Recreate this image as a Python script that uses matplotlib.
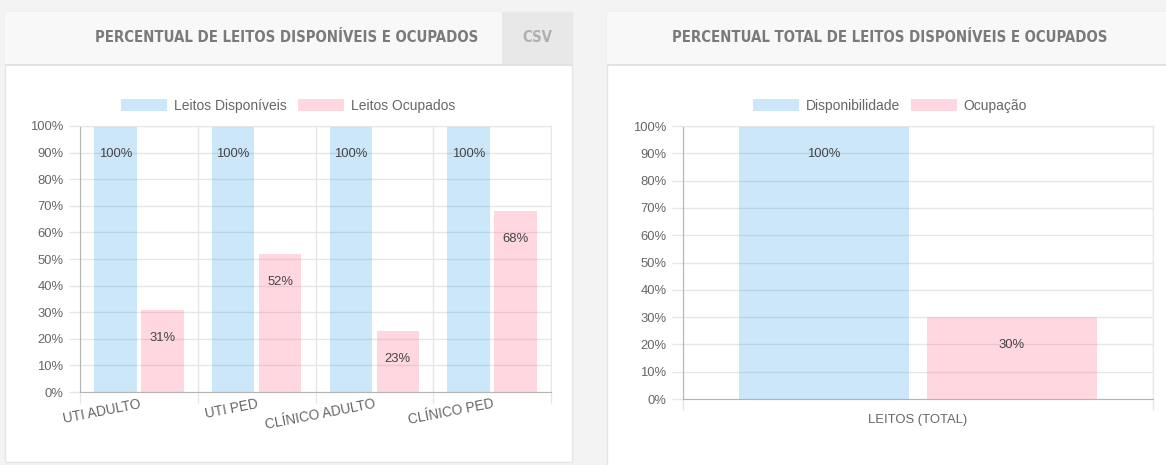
import matplotlib.pyplot as plt
from matplotlib.patches import Rectangle

# data
categorias = ["UTI ADULTO", "UTI PED", "CLÍNICO ADULTO", "CLÍNICO PED"]
disponiveis = [100, 100, 100, 100]
ocupados = [31, 52, 23, 68]

total_cat = ["LEITOS (TOTAL)"]
total_disp = [100]
total_ocup = [30]

yticks = list(range(0, 101, 10))

W, H = 1166, 465
BLUE = (54/255, 162/255, 235/255, 0.25)
PINK = (255/255, 99/255, 132/255, 0.25)
GRID = "#e6e6e6"
AXIS = "#b5b5b5"
TXT = "#666666"
FS = 9.4

plt.rcParams["font.family"] = ["Liberation Sans", "DejaVu Sans"]

fig = plt.figure(figsize=(W / 100, H / 100), dpi=100)
fig.patch.set_facecolor("#f3f3f3")

# background: cards, headers
bg = fig.add_axes([0, 0, 1, 1], zorder=-10)
bg.set_xlim(0, W)
bg.set_ylim(H, 0)
bg.axis("off")


def card(x0, x1, y0, y1, title, tx, csv=False):
    bg.add_patch(Rectangle((x0, y0), x1 - x0, y1 - y0, facecolor="white",
                           edgecolor="#e6e6e6", lw=1))
    bg.add_patch(Rectangle((x0, y0), x1 - x0, 52, facecolor="#f9f8f8", lw=0))
    bg.add_patch(Rectangle((x0, 64), x1 - x0, 2, facecolor="#e2e2e2", lw=0))
    bg.text(tx, 38, title, ha="center", va="center", fontsize=10.7,
            fontweight="bold", fontstretch="condensed", color="#7a7a7a",
            family="DejaVu Sans")
    if csv:
        bg.add_patch(Rectangle((502, y0), x1 - 502, 52, facecolor="#e8e8e8", lw=0))
        bg.text(537, 38, "CSV", ha="center", va="center", fontsize=10.7,
                fontweight="bold", fontstretch="condensed", color="#b0b0b0",
                family="DejaVu Sans")


card(5, 572, 12, 462, "PERCENTUAL DE LEITOS DISPONÍVEIS E OCUPADOS", 287, csv=True)
card(607, 1175, 12, 470, "PERCENTUAL TOTAL DE LEITOS DISPONÍVEIS E OCUPADOS", 890)


def style(ax, n):
    ax.set_xlim(-0.5, n - 0.5)
    ax.set_ylim(0, 100)
    ax.set_yticks(yticks)
    ax.set_yticklabels([f"{v}%" for v in yticks])
    ax.set_xticks(range(n))
    ax.set_xticks([i - 0.5 for i in range(n + 1)], minor=True)
    ax.tick_params(axis="y", length=8, width=1, color=GRID, pad=4,
                   labelsize=FS, labelcolor=TXT)
    ax.tick_params(axis="x", which="major", length=0, labelsize=9.8, labelcolor=TXT)
    ax.tick_params(axis="x", which="minor", length=8, width=1, color=GRID)
    ax.grid(axis="y", color=GRID, lw=1)
    ax.grid(axis="x", which="minor", color=GRID, lw=1)
    ax.set_axisbelow(True)
    for s in ["top", "right"]:
        ax.spines[s].set_color(GRID)
    for s in ["left", "bottom"]:
        ax.spines[s].set_color(AXIS)
    ax.set_facecolor("none")


def labels(ax, bars, vals):
    for b, v in zip(bars, vals):
        ax.annotate(f"{v}%", (b.get_x() + b.get_width() / 2, v),
                    xytext=(0, -28), textcoords="offset pixels",
                    ha="center", va="center", fontsize=FS, color="#444444")


LEG = dict(loc="center", ncol=2, frameon=False, fontsize=10, labelcolor=TXT,
           handlelength=3.3, handleheight=0.95, handletextpad=0.5,
           columnspacing=0.8)

# left chart
ax1 = fig.add_axes([80 / W, 1 - 392 / H, 471 / W, 266 / H])
xs = range(len(categorias))
b1 = ax1.bar([x - 0.2 for x in xs], disponiveis, 0.36, color=BLUE, label="Leitos Disponíveis")
b2 = ax1.bar([x + 0.2 for x in xs], ocupados, 0.36, color=PINK, label="Leitos Ocupados")
style(ax1, len(categorias))
ax1.set_xticklabels(categorias, rotation=11, ha="right", va="top",
                    rotation_mode="anchor")
for t in ax1.get_xticklabels():
    t.set_x(t.get_position()[0] - 0.02)
labels(ax1, b1, disponiveis)
labels(ax1, b2, ocupados)
fig.legend(handles=[b1, b2], bbox_to_anchor=(288 / W, 1 - 106 / H), **LEG)

# right chart
ax2 = fig.add_axes([683 / W, 1 - 399 / H, 470 / W, 273 / H])
c1 = ax2.bar([-0.2], total_disp, 0.36, color=BLUE, label="Disponibilidade")
c2 = ax2.bar([0.2], total_ocup, 0.36, color=PINK, label="Ocupação")
style(ax2, len(total_cat))
ax2.set_xticklabels(total_cat)
ax2.tick_params(axis="x", which="major", pad=11, labelsize=FS)
labels(ax2, c1, total_disp)
labels(ax2, c2, total_ocup)
fig.legend(handles=[c1, c2], bbox_to_anchor=(890 / W, 1 - 106 / H), **LEG)

fig.savefig("out.png", dpi=100, facecolor=fig.get_facecolor())
